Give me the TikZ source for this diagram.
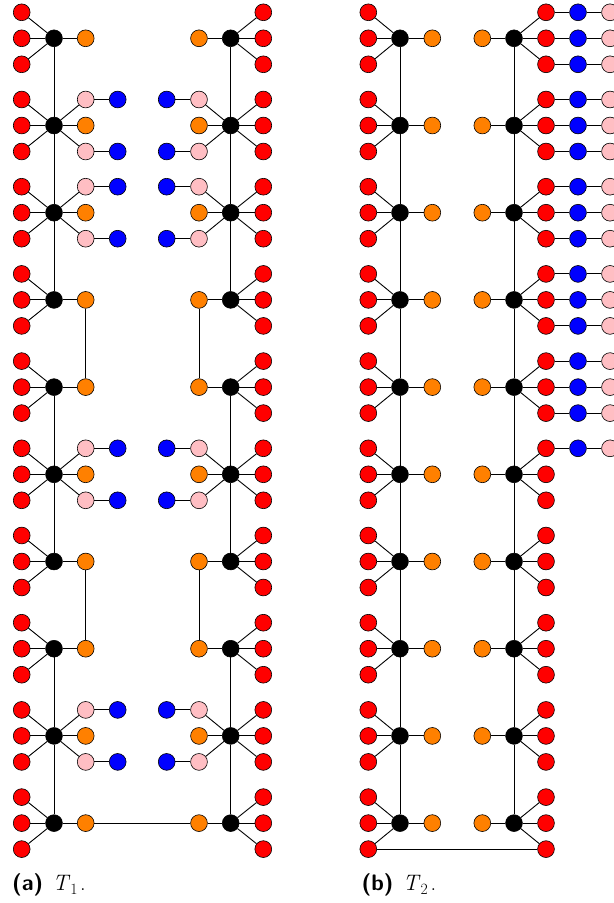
\RequirePackage{fix-cm}
\documentclass[tikz,border=0pt]{standalone}
\usepackage{fontspec}
\definecolor{vorange}{RGB}{255,128,0}
\definecolor{vpink}{RGB}{255,190,195}
\newcommand{\capsub}[1]{\raisebox{-0.16em}{\fontsize{15.75}{18}\selectfont #1}}
\tikzset{
  vtx/.style={circle, draw=black, line width=0.6bp, minimum size=16.8bp, inner sep=0pt},
  rd/.style={vtx, fill=red},
  bk/.style={vtx, fill=black},
  og/.style={vtx, fill=vorange},
  pk/.style={vtx, fill=vpink},
  bl/.style={vtx, fill=blue},
  edge/.style={line width=0.9bp, black},
  captxt/.style={anchor=base west, inner sep=0pt, font=\fontsize{22.5}{26}\selectfont}
}
\begin{document}
\begin{tikzpicture}[x=1bp,y=-1bp]
\useasboundingbox (0,0) rectangle (614,903);
% ---------------- (a) T1 ----------------
\foreach \i in {1,...,10}{
  \pgfmathsetmacro\yy{38.3+(\i-1)*87.2}
  % left tree
  \node[bk] (aL\i) at (54,\yy) {};
  \node[rd] (aLa\i) at (21.7,\yy-26) {};
  \node[rd] (aLb\i) at (21.7,\yy) {};
  \node[rd] (aLc\i) at (21.7,\yy+26) {};
  \node[og] (aLo\i) at (85.7,\yy) {};
  \draw[edge] (aL\i) -- (aLa\i);
  \draw[edge] (aL\i) -- (aLb\i);
  \draw[edge] (aL\i) -- (aLc\i);
  \draw[edge] (aL\i) -- (aLo\i);
  % right tree
  \node[bk] (aR\i) at (230.7,\yy) {};
  \node[rd] (aRa\i) at (263.3,\yy-26) {};
  \node[rd] (aRb\i) at (263.3,\yy) {};
  \node[rd] (aRc\i) at (263.3,\yy+26) {};
  \node[og] (aRo\i) at (199,\yy) {};
  \draw[edge] (aR\i) -- (aRa\i);
  \draw[edge] (aR\i) -- (aRb\i);
  \draw[edge] (aR\i) -- (aRc\i);
  \draw[edge] (aR\i) -- (aRo\i);
}
\foreach \i in {2,3,6,9}{
  \pgfmathsetmacro\yy{38.3+(\i-1)*87.2}
  \node[pk] (aLpa\i) at (85.7,\yy-26) {};
  \node[pk] (aLpc\i) at (85.7,\yy+26) {};
  \node[bl] (aLqa\i) at (117.7,\yy-26) {};
  \node[bl] (aLqc\i) at (117.7,\yy+26) {};
  \draw[edge] (aL\i) -- (aLpa\i);
  \draw[edge] (aL\i) -- (aLpc\i);
  \draw[edge] (aLpa\i) -- (aLqa\i);
  \draw[edge] (aLpc\i) -- (aLqc\i);
  \node[pk] (aRpa\i) at (199,\yy-26) {};
  \node[pk] (aRpc\i) at (199,\yy+26) {};
  \node[bl] (aRqa\i) at (166.7,\yy-26) {};
  \node[bl] (aRqc\i) at (166.7,\yy+26) {};
  \draw[edge] (aR\i) -- (aRpa\i);
  \draw[edge] (aR\i) -- (aRpc\i);
  \draw[edge] (aRpa\i) -- (aRqa\i);
  \draw[edge] (aRpc\i) -- (aRqc\i);
}
\foreach \i/\j in {1/2,2/3,3/4,5/6,6/7,8/9,9/10}{
  \draw[edge] (aL\i) -- (aL\j);
  \draw[edge] (aR\i) -- (aR\j);
}
\foreach \i/\j in {4/5,7/8}{
  \draw[edge] (aLo\i) -- (aLo\j);
  \draw[edge] (aRo\i) -- (aRo\j);
}
\draw[edge] (aLo10) -- (aRo10);
% ---------------- (b) T2 ----------------
\foreach \i in {1,...,10}{
  \pgfmathsetmacro\yy{38.3+(\i-1)*87.2}
  \node[bk] (bL\i) at (400,\yy) {};
  \node[rd] (bLa\i) at (368.3,\yy-26) {};
  \node[rd] (bLb\i) at (368.3,\yy) {};
  \node[rd] (bLc\i) at (368.3,\yy+26) {};
  \node[og] (bLo\i) at (432.3,\yy) {};
  \draw[edge] (bL\i) -- (bLa\i);
  \draw[edge] (bL\i) -- (bLb\i);
  \draw[edge] (bL\i) -- (bLc\i);
  \draw[edge] (bL\i) -- (bLo\i);
  \node[bk] (bR\i) at (514,\yy) {};
  \node[rd] (bRa\i) at (546,\yy-26) {};
  \node[rd] (bRb\i) at (546,\yy) {};
  \node[rd] (bRc\i) at (546,\yy+26) {};
  \node[og] (bRo\i) at (482.3,\yy) {};
  \draw[edge] (bR\i) -- (bRa\i);
  \draw[edge] (bR\i) -- (bRb\i);
  \draw[edge] (bR\i) -- (bRc\i);
  \draw[edge] (bR\i) -- (bRo\i);
}
\foreach \i in {1,...,5}{
  \pgfmathsetmacro\yy{38.3+(\i-1)*87.2}
  \foreach \k/\d in {a/-26,b/0,c/26}{
    \node[bl] (bRq\k\i) at (578,\yy+\d) {};
    \node[pk] (bRp\k\i) at (610,\yy+\d) {};
    \draw[edge] (bR\k\i) -- (bRq\k\i);
    \draw[edge] (bRq\k\i) -- (bRp\k\i);
  }
}
\pgfmathsetmacro\yy{38.3+5*87.2}
\node[bl] (bRqa6) at (578,\yy-26) {};
\node[pk] (bRpa6) at (610,\yy-26) {};
\draw[edge] (bRa6) -- (bRqa6);
\draw[edge] (bRqa6) -- (bRpa6);
\foreach \i/\j in {1/2,2/3,3/4,4/5,5/6,6/7,7/8,8/9,9/10}{
  \draw[edge] (bL\i) -- (bL\j);
  \draw[edge] (bR\i) -- (bR\j);
}
\draw[edge] (bLc10) -- (bRc10);
% ---------------- captions ----------------
\node[captxt] (capa) at (12,890.5) {\textsf{\textbf{(a)}}\hspace{0.42em}\textit{T}\capsub{1}\hspace{0.12em}.};
\node[captxt] (capb) at (361.5,890.5) {\textsf{\textbf{(b)}}\hspace{0.42em}\textit{T}\capsub{2}\hspace{0.12em}.};
\end{tikzpicture}
\end{document}
